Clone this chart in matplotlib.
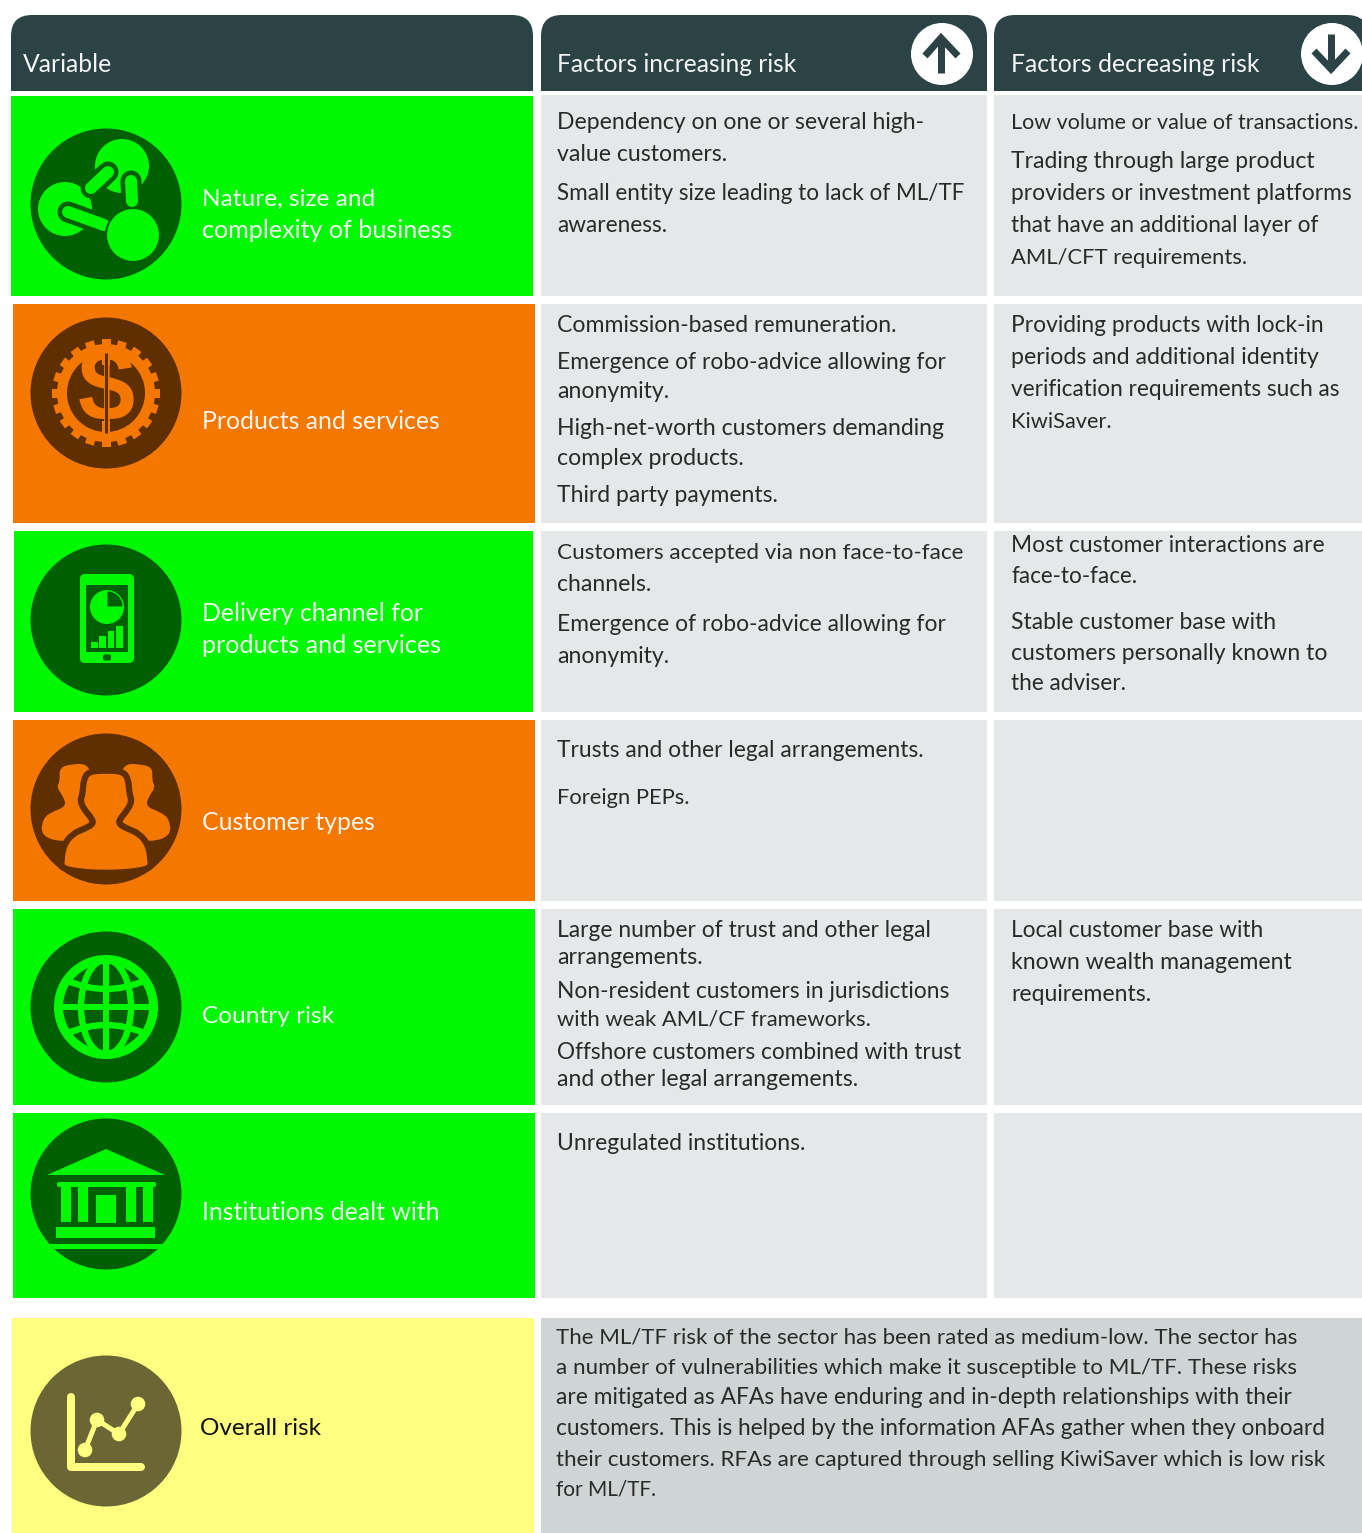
import numpy as np
import matplotlib
matplotlib.use("Agg")
import matplotlib.pyplot as plt
from matplotlib.patches import Rectangle, Circle, PathPatch, Polygon, Wedge, Ellipse, FancyBboxPatch
from matplotlib.path import Path
from matplotlib.transforms import Affine2D

FONT = "Lato"
W, H = 1362, 1533

headers = ["Variable", "Factors increasing risk", "Factors decreasing risk"]
variables = [
    ["Nature, size and", "complexity of business"],
    ["Products and services"],
    ["Delivery channel for", "products and services"],
    ["Customer types"],
    ["Country risk"],
    ["Institutions dealt with"],
]
overall_label = "Overall risk"
increasing = [
    ["Dependency on one or several high-", "value customers.", "Small entity size leading to lack of ML/TF", "awareness."],
    ["Commission-based remuneration.", "Emergence of robo-advice allowing for", "anonymity.",
     "High-net-worth customers demanding", "complex products.", "Third party payments."],
    ["Customers accepted via non face-to-face", "channels.", "Emergence of robo-advice allowing for", "anonymity."],
    ["Trusts and other legal arrangements.", "Foreign PEPs."],
    ["Large number of trust and other legal", "arrangements.", "Non-resident customers in jurisdictions",
     "with weak AML/CF frameworks.", "Offshore customers combined with trust", "and other legal arrangements."],
    ["Unregulated institutions."],
]
decreasing = [
    ["Low volume or value of transactions.", "Trading through large product", "providers or investment platforms",
     "that have an additional layer of", "AML/CFT requirements."],
    ["Providing products with lock-in", "periods and additional identity", "verification requirements such as", "KiwiSaver."],
    ["Most customer interactions are", "face-to-face.", "Stable customer base with", "customers personally known to", "the adviser."],
    [],
    ["Local customer base with", "known wealth management", "requirements."],
    [],
]
overall_text = [
    "The ML/TF risk of the sector has been rated as medium-low. The sector has",
    "a number of vulnerabilities which make it susceptible to ML/TF. These risks",
    "are mitigated as AFAs have enduring and in-depth relationships with their",
    "customers. This is helped by the information AFAs gather when they onboard",
    "their customers. RFAs are captured through selling KiwiSaver which is low risk",
    "for ML/TF.",
]

# layout (pixels): vertical text centres and right edges of each line
inc_y = [[121, 153, 192, 224], [324, 361, 390, 427, 457, 494], [551, 583, 623, 655], [749, 796],
         [929, 956, 990, 1017, 1051, 1078], [1142]]
inc_r = [[924, 727, 965, 667], [896, 944, 669, 943, 744, 777], [963, 651, 944, 669], [922, 690],
         [930, 703, 947, 871, 960, 858], [805]]
dec_y = [[121, 160, 192, 224, 256], [324, 356, 388, 420], [544, 575, 621, 652, 682], [], [929, 961, 993], []]
dec_r = [[1358, 1314, 1350, 1318, 1247], [1323, 1318, 1339, 1111], [1323, 1137, 1276, 1326, 1126], [],
         [1263, 1292, 1151], []]
var_y = [[198, 230], [421], [613, 645], [822], [1015], [1212]]
var_r = [[375, 453], [440], [422, 441], [375], [333], [440]]
overall_y = [1335, 1366, 1396, 1427, 1458, 1488]
overall_r = [1296, 1294, 1288, 1323, 1323, 656]
row_x = [(11, 533), (13, 535), (14, 533), (13, 535), (13, 535), (13, 535)]
row_y = [(96, 296), (304, 523), (531, 712), (720, 901), (909, 1105), (1113, 1298)]
cell_y = [(95, 296), (304, 523), (531, 712), (720, 901), (909, 1105), (1113, 1298)]
circle_y = [204, 393, 620, 809, 1007, 1194]
kinds = ["g", "o", "g", "o", "g", "g"]
GREEN, ORANGE = "#00f900", "#f47700"
DGREEN, BROWN = "#005f00", "#5f2f00"
YELLOW, OLIVE = "#ffff80", "#6b6735"
HEAD, CELL, CELL2 = "#2c4346", "#e5e8e9", "#cfd5d5"
TXT = "#2a2a2a"
FS = 16.6

fig = plt.figure(figsize=(W / 100, H / 100), dpi=100, facecolor="white")
ax = fig.add_axes([0, 0, 1, 1])
ax.set_xlim(0, W)
ax.set_ylim(H, 0)
ax.axis("off")
rend = fig.canvas.get_renderer()


def T(x, y, s, right, color=TXT):
    t = ax.text(x, y + 8, s, color=color, fontsize=FS, family=FONT, va="baseline", ha="left", zorder=10)
    w = t.get_window_extent(rend).width
    t.set_fontsize(FS * (right - x) / w)


def rect(x0, y0, x1, y1, c, z=1):
    ax.add_patch(Rectangle((x0, y0), x1 - x0, y1 - y0, fc=c, ec="none", zorder=z))


def header(x0, x1, y0=15, y1=91, r=21):
    v = [(x0, y1), (x0, y0 + r), (x0, y0), (x0 + r, y0), (x1 - r, y0), (x1, y0), (x1, y0 + r), (x1, y1), (x0, y1)]
    c = [Path.MOVETO, Path.LINETO, Path.CURVE3, Path.CURVE3, Path.LINETO, Path.CURVE3, Path.CURVE3, Path.LINETO, Path.CLOSEPOLY]
    ax.add_patch(PathPatch(Path(v, c), fc=HEAD, ec="none", zorder=2))


def smooth(points, fc, ec="none", lw=0, z=6):
    p = np.array(points, float)
    n = len(p)
    mids = (p + np.roll(p, -1, axis=0)) / 2
    v = [mids[-1]]
    c = [Path.MOVETO]
    for i in range(n):
        v += [p[i], mids[i]]
        c += [Path.CURVE3, Path.CURVE3]
    ax.add_patch(PathPatch(Path(v, c), fc=fc, ec=ec, lw=lw, zorder=z))


def line(pts, c, w, cap="round", z=6, join="round"):
    xs, ys = zip(*pts)
    ax.plot(xs, ys, color=c, lw=w * 0.72, solid_capstyle=cap, solid_joinstyle=join, zorder=z)


def icon_links(cx, cy, L, D):
    for dx, dy in [(16, -38), (-41, 5)]:
        ax.add_patch(Circle((cx + dx, cy + dy), 27, fc=L, ec="none", zorder=5))
    links = [((2, -32), (-15, -16)), ((25, -23), (26, -3)), ((-38, 8), (-2, 21))]
    for a, b in links:
        line([(cx + a[0], cy + a[1]), (cx + b[0], cy + b[1])], D, 21, "round", 6)
    for a, b in links:
        line([(cx + a[0], cy + a[1]), (cx + b[0], cy + b[1])], L, 12, "round", 7)
    ax.add_patch(Circle((cx + 27, cy + 31), 27, fc=L, ec=D, lw=1.5, zorder=8))


def icon_gear(cx, cy, L, D):
    for a in np.arange(0, 360, 18):
        t = Affine2D().rotate_deg_around(cx, cy, a) + ax.transData
        ax.add_patch(Rectangle((cx - 4.5, cy - 54), 9, 12, fc=L, ec="none", zorder=5, transform=t))
    ax.add_patch(Circle((cx, cy), 49, fc=L, ec="none", zorder=6))
    ax.add_patch(Circle((cx, cy), 39, fc=D, ec="none", zorder=7))
    ax.text(cx, cy + 1, "$", color=L, fontsize=74, family="Liberation Sans", weight="bold",
            ha="center", va="center", zorder=8)
    line([(cx, cy - 39), (cx, cy - 28)], L, 8, "butt", 8)
    line([(cx, cy + 28), (cx, cy + 39)], L, 8, "butt", 8)
    line([(cx, cy - 40), (cx, cy + 40)], D, 3, "butt", 9)


def icon_phone(cx, cy, L, D):
    ax.add_patch(FancyBboxPatch((cx - 23, cy - 43), 48, 83, boxstyle="round,pad=3,rounding_size=5", fc=L, ec="none", zorder=5))
    rect(cx - 20, cy - 35, cx + 22, cy + 32, D, 6)
    ax.add_patch(Circle((cx + 1, cy - 13), 17, fc=L, ec="none", zorder=7))
    ax.add_patch(Wedge((cx + 1.5, cy - 13.5), 15, 270, 360, fc=D, ec="none", zorder=8))
    for x0, top in [(-15, 21.5), (-6.7, 16), (1.7, 11), (10, 5.5)]:
        rect(cx + x0, cy + top, cx + x0 + 6.6, cy + 28, L, 7)
    ax.add_patch(FancyBboxPatch((cx - 1.5, cy + 36), 5, 3, boxstyle="round,pad=1.5,rounding_size=2", fc=D, ec="none", zorder=7))


def icon_people(cx, cy, L, D):
    sc = 1.08 / 3.0
    side = 1.0 / 3.0
    left = [(-100, -135), (-55, -135), (-40, -90), (-40, 85), (-135, 100), (-195, 80), (-190, 30), (-165, 10),
            (-118, -8), (-130, -40), (-148, -65), (-138, -85), (-140, -125)]
    for s in (-1, 1):
        smooth([(cx - s * x * side, cy + y * side) for x, y in left], L, z=5)
    half = [(0, -107), (45, -105), (62, -85), (65, -40), (72, -25), (62, 0), (38, 28), (36, 42), (60, 55), (92, 68),
            (118, 100), (125, 150), (122, 165), (70, 175), (0, 178)]
    pts = half + [(-x, y) for x, y in half[-2:0:-1]]
    smooth([(cx + x * sc, cy + y * sc) for x, y in pts], L, ec=D, lw=4.5, z=6)


def icon_globe(cx, cy, L, D):
    r = 47.5
    ax.add_patch(Circle((cx, cy), r, fc="none", ec=L, lw=6.5, zorder=6))
    ax.add_patch(Ellipse((cx, cy), 50, 2 * r, fc="none", ec=L, lw=4.6, zorder=6))
    line([(cx - r, cy), (cx + r, cy)], L, 6, "butt")
    line([(cx, cy - r), (cx, cy + r)], L, 6, "butt")
    for s in (-1, 1):
        v = [(cx - 38, cy + s * 26), (cx, cy + s * 10), (cx + 38, cy + s * 26)]
        ax.add_patch(PathPatch(Path(v, [Path.MOVETO, Path.CURVE3, Path.CURVE3]), fc="none", ec=L, lw=4.6, zorder=6))


def icon_bank(cx, cy, L, D):
    ax.add_patch(Polygon([(cx - 59, cy - 19), (cx + 59, cy - 19), (cx, cy - 45)], fc=L, ec="none", zorder=6))
    ax.add_patch(FancyBboxPatch((cx - 48, cy - 11), 97, 3, boxstyle="round,pad=1,rounding_size=2", fc=L, ec="none", zorder=6))
    for a, b in [(-45, -35.5), (-28, -18), (20, 29.5), (37, 47)]:
        rect(cx + a, cy - 7, cx + b, cy + 28, L, 6)
    rect(cx - 10, cy + 1, cx + 10, cy + 29, L, 6)
    rect(cx - 50, cy + 33, cx + 49, cy + 44, L, 6)
    ax.add_patch(Polygon([(cx - 57, cy + 50), (cx + 57, cy + 50), (cx + 52, cy + 55), (cx - 52, cy + 55)], fc=L, ec="none", zorder=6))


def icon_chart(cx, cy, L, D):
    line([(cx - 35, cy - 34), (cx - 35, cy + 36), (cx + 35, cy + 36)], L, 8, "round")
    pts = [(cx - 21, cy + 19), (cx - 9, cy - 11), (cx + 13, cy + 3), (cx + 32, cy - 27)]
    line(pts, L, 5)
    for p in pts:
        ax.add_patch(Circle(p, 7.3, fc=L, ec="none", zorder=7))


icons = [icon_links, icon_gear, icon_phone, icon_people, icon_globe, icon_bank]

# headers
for x0, x1 in [(11, 533), (541, 987), (994, 1368)]:
    header(x0, x1)
for x, r, s in zip([23, 557, 1011], [112, 797, 1259], headers):
    T(x, 64, s, r, "#f4f6f6")
ax.add_patch(Circle((942, 54), 31, fc="white", ec="none", zorder=3))
ax.add_patch(Circle((1332, 54), 31, fc="white", ec="none", zorder=3))
line([(941, 73), (941, 37)], HEAD, 7, "butt", 4)
line([(925, 56), (941, 38), (958, 56)], HEAD, 7, "butt", 4, "miter")
line([(1331, 34), (1331, 70)], HEAD, 7, "butt", 4)
line([(1314, 51), (1331, 69), (1348, 51)], HEAD, 7, "butt", 4, "miter")

# rows
for i in range(6):
    fc, dk = (GREEN, DGREEN) if kinds[i] == "g" else (ORANGE, BROWN)
    rect(row_x[i][0], row_y[i][0], row_x[i][1], row_y[i][1], fc)
    rect(541, cell_y[i][0], 987, cell_y[i][1], CELL)
    rect(994, cell_y[i][0], 1362, cell_y[i][1], CELL)
    ax.add_patch(Circle((106, circle_y[i]), 75.5, fc=dk, ec="none", zorder=4))
    icons[i](106, circle_y[i], fc, dk)
    for s, y, r in zip(variables[i], var_y[i], var_r[i]):
        T(202, y, s, r, "#f2fff2" if kinds[i] == "g" else "#fff4ea")
    for s, y, r in zip(increasing[i], inc_y[i], inc_r[i]):
        T(557, y, s, r)
    for s, y, r in zip(decreasing[i], dec_y[i], dec_r[i]):
        T(1011, y, s, r)

# overall
rect(12, 1318, 534, 1533, YELLOW)
rect(541, 1318, 1362, 1533, CELL2)
ax.add_patch(Circle((106, 1431), 75.5, fc=OLIVE, ec="none", zorder=4))
icon_chart(106, 1431, YELLOW, OLIVE)
T(200, 1427, overall_label, 321, "#111111")
for s, y, r in zip(overall_text, overall_y, overall_r):
    T(556, y, s, r)

fig.savefig("out.png", dpi=100, facecolor="white")
